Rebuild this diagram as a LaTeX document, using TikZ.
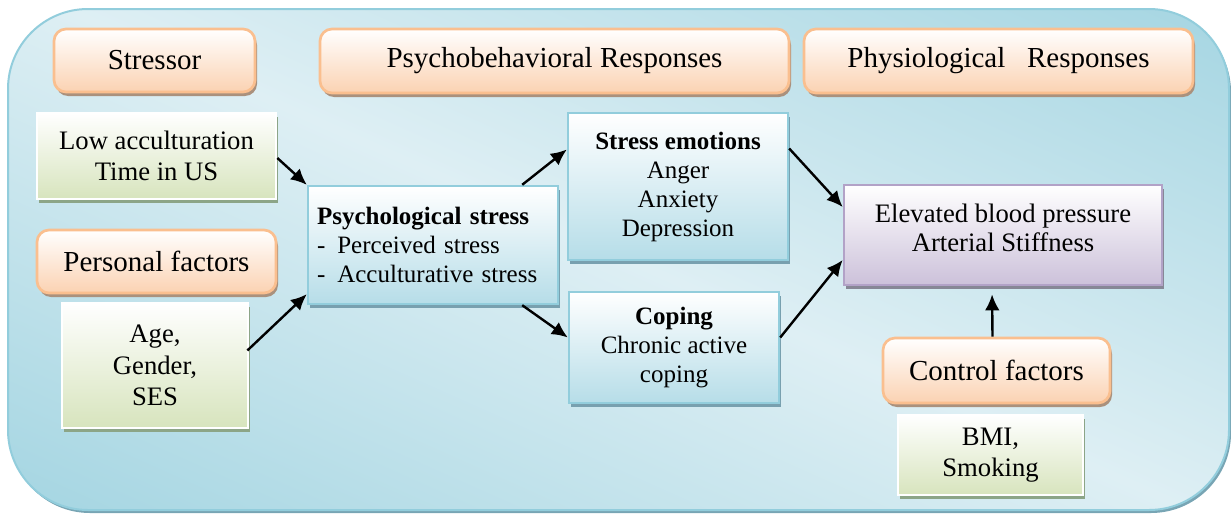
\documentclass[tikz,border=0pt]{standalone}
\usepackage{fontspec}
\setmainfont{Liberation Serif}
\usetikzlibrary{calc,shadows,arrows.meta}

\definecolor{bgdark}{RGB}{146,205,220}
\definecolor{bglight}{RGB}{222,239,244}
\definecolor{bgshadow}{RGB}{120,165,180}
\definecolor{orangeline}{RGB}{250,191,143}
\definecolor{orangefill}{RGB}{251,210,178}
\definecolor{orangeshadow}{RGB}{170,145,125}
\definecolor{greenfill}{RGB}{215,228,189}
\definecolor{greenshadow}{RGB}{140,165,135}
\definecolor{bluefill}{RGB}{182,221,232}
\definecolor{blueline}{RGB}{146,205,220}
\definecolor{blueshadow}{RGB}{120,160,175}
\definecolor{purplefill}{RGB}{204,193,218}
\definecolor{purpleline}{RGB}{178,162,199}
\definecolor{purpleshadow}{RGB}{135,135,150}

\begin{document}
\begin{tikzpicture}[x=0.75pt,y=-0.75pt,
  header/.style={draw=orangeline, line width=2pt, rounded corners=9pt,
    top color=white, bottom color=orangefill,
    drop shadow={shadow xshift=1.5pt, shadow yshift=-3pt, fill=orangeshadow, opacity=1},
    font=\fontsize{21.75}{26}\selectfont, inner sep=0pt},
  factor/.style={draw=white, line width=2pt,
    top color=white, bottom color=greenfill,
    drop shadow={shadow xshift=1.5pt, shadow yshift=-3pt, fill=greenshadow, opacity=1},
    font=\fontsize{20}{23.5}\selectfont, align=center, inner sep=0pt},
  psybox/.style={draw=blueline, line width=1.8pt,
    top color=white, bottom color=bluefill,
    drop shadow={shadow xshift=1.5pt, shadow yshift=-3pt, fill=blueshadow, opacity=1},
    font=\fontsize{18.75}{21.75}\selectfont, align=center, inner sep=0pt},
  outcome/.style={draw=purpleline, line width=2pt,
    top color=white, bottom color=purplefill,
    drop shadow={shadow xshift=1.5pt, shadow yshift=-3pt, fill=purpleshadow, opacity=1},
    font=\fontsize{20}{21.75}\selectfont, align=center, inner sep=0pt},
  arr/.style={-{Latex[length=12pt,width=11pt]}, line width=1.8pt}]

\useasboundingbox (0,0) rectangle (1231,514);

% Background panel
\fill[bgshadow, rounded corners=60pt] (10,12) rectangle (1231,513);
\begin{scope}
  \clip[rounded corners=60pt] (8,9) rectangle (1229,510);
  \shade[top color=bgdark, bottom color=bgdark, middle color=bglight, shading angle=-24]
    (-18,-381) rectangle (1254,891);
\end{scope}
\draw[bgdark, line width=1.5pt, rounded corners=60pt] (8,9) rectangle (1229,510);

% Column headers
\node[header, minimum width=150.75pt, minimum height=47.25pt] (stressor) at (154.5,60.5) {Stressor};
\node[header, minimum width=351.75pt, minimum height=48pt] (psybeh) at (554.5,61) {Psychobehavioral Responses};
\node[header, minimum width=291.75pt, minimum height=48pt] (physio) at (998.5,61) {Physiological~~~Responses};

% Stressor column
\node[factor, minimum width=179.25pt, minimum height=64.5pt] (lowacc) at (156.5,156) {Low acculturation\\Time in US};
\node[header, minimum width=179.25pt, minimum height=47.25pt] (personal) at (156.5,261.5) {Personal factors};
\node[factor, minimum width=139.5pt, minimum height=93.75pt] (age) at (155,365.5) {Age,\\Gender,\\SES};

% Psychobehavioral column
\node[psybox, minimum height=88.5pt, text width=174pt, inner xsep=6.75pt, align=left] (psy) at (433,245)
  {\textbf{Psychological stress}\\-\hspace{9pt}Perceived stress\\-\hspace{9pt}Acculturative stress};
\node[psybox, minimum width=165pt, minimum height=110.25pt] (emo) at (678,186.5)
  {\textbf{Stress emotions}\\Anger\\Anxiety\\Depression};
\node[psybox, minimum width=157.5pt, minimum height=83.25pt] (coping) at (674,347.5)
  {\textbf{Coping}\\Chronic active\\coping};

% Physiological column
\node[outcome, minimum width=238.5pt, minimum height=75pt, text depth=11pt] (phys) at (1003,235)
  {Elevated blood pressure\\Arterial Stiffness};
\node[header, minimum width=170.25pt, minimum height=48.75pt] (ctrl) at (996.5,370.5) {Control factors};
\node[factor, minimum width=138.75pt, minimum height=60pt] (bmi) at (990.5,455) {BMI,\\Smoking};

% Arrows
\draw[arr] ($(lowacc.east)+(0,2)$) -- (psy.north west);
\draw[arr] ($(age.east)+(-2,-15)$) -- ($(psy.south west)+(0,-11)$);
\draw[arr] ($(psy.north east)+(-37,0)$) -- ($(emo.west)+(0,-37)$);
\draw[arr] ($(psy.south east)+(-37,0)$) -- ($(coping.west)+(0,-10)$);
\draw[arr] ($(emo.east)+(0,-38)$) -- ($(phys.west)+(0,-28)$);
\draw[arr] ($(coping.east)+(0,-10)$) -- ($(phys.west)+(0,25)$);
\draw[arr, shorten >=6pt] ($(ctrl.north)+(-4,0)$) -- ($(phys.south)+(-11,0)$);

\end{tikzpicture}
\end{document}
